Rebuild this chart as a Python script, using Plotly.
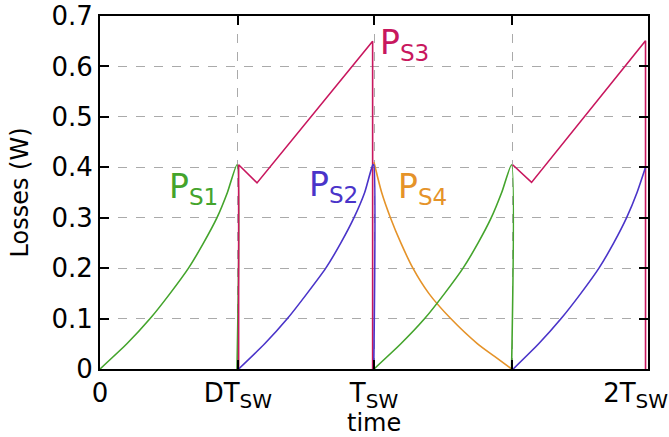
import plotly.graph_objects as go

# ---- data (time in units of Tsw, losses in W) ----
ps1_t = [0.0, 0.098, 0.183, 0.256, 0.323, 0.378, 0.427, 0.465, 0.500, 0.500, None,
         1.000, 1.098, 1.185, 1.258, 1.325, 1.380, 1.428, 1.466, 1.502, 1.502]
ps1_p = [0.0, 0.05, 0.10, 0.15, 0.20, 0.25, 0.30, 0.35, 0.405, 0.0, None,
         0.0, 0.05, 0.10, 0.15, 0.20, 0.25, 0.30, 0.35, 0.405, 0.0]

ps2_t = [0.506, 0.601, 0.684, 0.756, 0.824, 0.879, 0.927, 0.966, 0.996, 0.999, 0.999, None,
         1.508, 1.601, 1.683, 1.755, 1.821, 1.875, 1.922, 1.960, 1.991]
ps2_p = [0.0, 0.05, 0.10, 0.15, 0.20, 0.25, 0.30, 0.35, 0.405, 0.405, 0.0, None,
         0.0, 0.05, 0.10, 0.15, 0.20, 0.25, 0.30, 0.35, 0.40]

ps3_t = [0.506, 0.506, 0.573, 0.995, 0.995, None,
         1.506, 1.575, 1.991, 1.991]
ps3_p = [0.0, 0.405, 0.369, 0.65, 0.0, None,
         0.405, 0.370, 0.651, 0.0]

ps4_t = [1.000, 1.028, 1.060, 1.098, 1.142, 1.200, 1.280, 1.378, 1.440, 1.502]
ps4_p = [0.410, 0.35, 0.30, 0.25, 0.20, 0.15, 0.10, 0.05, 0.025, 0.0]

x_tickvals = [0, 0.503, 1.0, 1.504, 2.0]
x_ticktext = ["0",
              "DT<sub><span style='font-size:20px'>SW</span></sub>",
              "T<sub><span style='font-size:20px'>SW</span></sub>",
              "",
              "2T<sub><span style='font-size:20px'>SW</span></sub>&nbsp;&nbsp;&nbsp;"]
y_tickvals = [0, 0.1, 0.2, 0.3, 0.4, 0.5, 0.6, 0.7]
y_ticktext = ["0", "0.1", "0.2", "0.3", "0.4", "0.5", "0.6", "0.7"]

labels = [("P<sub>S1</sub>", 0.245, 0.358, "#44A42C"),
          ("P<sub>S2</sub>", 0.756, 0.362, "#4A34C9"),
          ("P<sub>S3</sub>", 1.016, 0.644, "#C8175E"),
          ("P<sub>S4</sub>", 1.082, 0.358, "#E59329")]

C_GREEN, C_BLUE, C_MAG, C_OR = "#44A42C", "#4A34C9", "#C8175E", "#E59329"
FONT = "DejaVu Sans"

fig = go.Figure()
fig.add_trace(go.Scatter(x=ps4_t, y=ps4_p, mode="lines", line=dict(color=C_OR, width=1.6, shape="spline", smoothing=0.7)))
fig.add_trace(go.Scatter(x=ps1_t, y=ps1_p, mode="lines", line=dict(color=C_GREEN, width=1.6, shape="spline", smoothing=0.6)))
fig.add_trace(go.Scatter(x=ps3_t, y=ps3_p, mode="lines", line=dict(color=C_MAG, width=1.6)))
fig.add_trace(go.Scatter(x=ps2_t, y=ps2_p, mode="lines", line=dict(color=C_BLUE, width=1.6, shape="spline", smoothing=0.6)))

for txt, x, y, c in labels:
    fig.add_annotation(x=x, y=y, xref="x", yref="y", text=txt, showarrow=False,
                       xanchor="left", yanchor="middle",
                       font=dict(family=FONT, size=33, color=c))

# x-axis title placed as real text just below the tick labels
fig.add_annotation(x=0.5, y=-0.108, xref="paper", yref="paper", text="time", showarrow=False,
                   xanchor="center", yanchor="top", font=dict(family=FONT, size=24, color="black"))

axis_common = dict(showline=True, linecolor="black", linewidth=2, mirror="allticks",
                   ticks="inside", ticklen=9, tickwidth=2, tickcolor="black",
                   showgrid=True, gridcolor="#AAAAAA", gridwidth=1, griddash="dash",
                   zeroline=False, tickfont=dict(family=FONT, size=26, color="black"),
                   layer="above traces", ticklabeloverflow="allow", automargin=False)

fig.update_xaxes(range=[0, 2.0], tickmode="array", tickvals=x_tickvals, ticktext=x_ticktext,
                 **axis_common)
fig.update_yaxes(range=[0, 0.7], tickmode="array", tickvals=y_tickvals, ticktext=y_ticktext,
                 title=dict(text="Losses (W)", font=dict(family=FONT, size=24, color="black"), standoff=16),
                 **axis_common)

fig.update_layout(width=669, height=437, margin=dict(l=100, r=21, t=16, b=68),
                  paper_bgcolor="white", plot_bgcolor="white", showlegend=False,
                  font=dict(family=FONT))

fig.write_html("out.html")
